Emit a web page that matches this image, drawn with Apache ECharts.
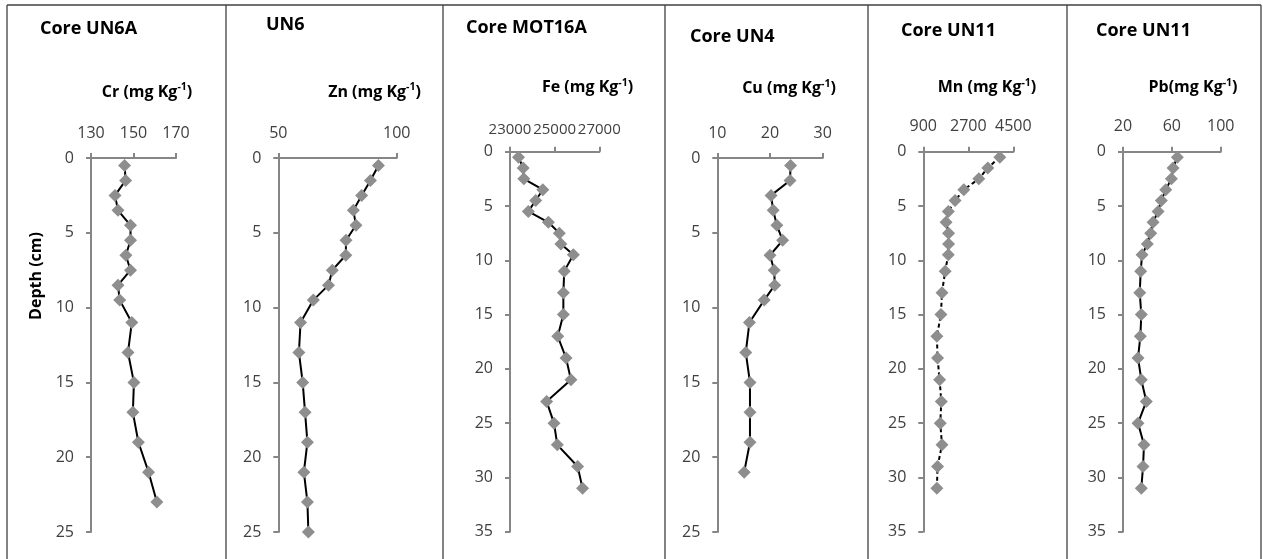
<!DOCTYPE html>
<html>
<head>
<meta charset="utf-8">
<script src="https://cdn.jsdelivr.net/npm/echarts@6/dist/echarts.min.js"></script>
<style>
  html, body { margin: 0; padding: 0; background: #ffffff; }
  #chart { width: 1263px; height: 559px; }
</style>
</head>
<body>
<div id="chart"></div>
<script>
// Sediment core profiles: metal concentration (mg/kg) against depth (cm)
const coreTitles = ['Core UN6A', 'UN6', 'Core MOT16A', 'Core UN4', 'Core UN11', 'Core UN11'];
const elementLabels = ['Cr (mg Kg', 'Zn (mg Kg', 'Fe (mg Kg', 'Cu (mg Kg', 'Mn (mg Kg', 'Pb(mg Kg'];
const depthAxisName = 'Depth (cm)';

// Depths (cm) of the sampled slices in each core
const depthCr = [0.5, 1.5, 2.5, 3.5, 4.5, 5.5, 6.5, 7.5, 8.5, 9.5, 11, 13, 15, 17, 19, 21, 23];
const depthZn = [0.5, 1.5, 2.5, 3.5, 4.5, 5.5, 6.5, 7.5, 8.5, 9.5, 11, 13, 15, 17, 19, 21, 23, 25];
const depthFe = [0.5, 1.5, 2.5, 3.5, 4.5, 5.5, 6.5, 7.5, 8.5, 9.5, 11, 13, 15, 17, 19, 21, 23, 25, 27, 29, 31];
const depthCu = [0.5, 1.5, 2.5, 3.5, 4.5, 5.5, 6.5, 7.5, 8.5, 9.5, 11, 13, 15, 17, 19, 21];
const depthMn = [0.5, 1.5, 2.5, 3.5, 4.5, 5.5, 6.5, 7.5, 8.5, 9.5, 11, 13, 15, 17, 19, 21, 23, 25, 27, 29, 31];
const depthPb = [0.5, 1.5, 2.5, 3.5, 4.5, 5.5, 6.5, 7.5, 8.5, 9.5, 11, 13, 15, 17, 19, 21, 23, 25, 27, 29, 31];

// Concentrations (mg/kg)
const cr = [145.8, 146.3, 141.3, 142.7, 148.6, 148.6, 146.4, 148.6, 142.7, 143.5, 149.2, 147.4, 150.2, 149.7, 152.3, 157.1, 161.0];
const zn = [92.3, 88.9, 85.2, 81.7, 82.8, 78.6, 78.5, 72.8, 71.2, 64.8, 59.4, 58.7, 60.3, 61.3, 62.3, 60.8, 62.3, 62.7];
const fe = [23380, 23590, 23620, 24470, 24150, 23820, 24720, 25210, 25280, 25840, 25430, 25390, 25390, 25140, 25510, 25730, 24640, 24970, 25120, 26030, 26250];
const cu = [23.9, 23.8, 20.2, 20.6, 21.3, 22.4, 20.0, 20.8, 20.9, 18.9, 16.1, 15.4, 16.2, 16.2, 16.2, 15.1];
const mn = [3960, 3480, 3120, 2520, 2170, 1900, 1810, 1910, 1910, 1900, 1775, 1647, 1606, 1443, 1471, 1552, 1620, 1579, 1647, 1471, 1443];
const pb = [64.5, 61.0, 59.6, 55.0, 51.4, 48.7, 44.6, 42.7, 39.9, 35.6, 34.5, 33.7, 35.0, 34.2, 32.3, 35.0, 39.1, 32.3, 37.2, 36.4, 35.0];

// Concentration axis ranges: [min, max, interval]; depth axis maxima
const concRanges = [[130, 170, 20], [50, 100, 50], [23000, 27000, 2000], [10, 30, 10], [900, 4500, 1800], [20, 100, 40]];
const depthMax = [25, 25, 35, 25, 35, 35];

const values = [cr, zn, fe, cu, mn, pb];
const depths = [depthCr, depthZn, depthFe, depthCu, depthMn, depthPb];

// Layout of each panel (plot box in px, title and axis-name anchors, top label gap and size)
const layout = [
  { box: [91, 158, 85, 374],       title: [40, 29],   name: [147, 92],     gap: 17, tick: 16 },
  { box: [278.3, 158, 118.4, 374], title: [266, 25],  name: [374.5, 92],   gap: 17, tick: 16 },
  { box: [510, 151.7, 89.3, 380],  title: [466, 28],  name: [587.5, 87.5], gap: 14, tick: 15 },
  { box: [717.3, 158, 105.4, 374], title: [690, 37],  name: [789, 88.5],   gap: 17, tick: 16 },
  { box: [923.3, 151.7, 90, 380],  title: [901, 31],  name: [987, 87.5],   gap: 17, tick: 16 },
  { box: [1123, 151.7, 97.7, 380], title: [1096, 31], name: [1193, 87.5],  gap: 17, tick: 16 }
];
const panelEdges = [7, 226, 443, 665, 868, 1067, 1261];

const FONT = '"Open Sans", "Noto Sans", sans-serif';
const AXIS_GREY = '#868686';
const LABEL_GREY = '#404040';

const grids = [], xAxes = [], yAxes = [], series = [], graphics = [];

layout.forEach((p, i) => {
  const [l, t, w, h] = p.box;
  grids.push({ left: l, top: t, width: w, height: h, containLabel: false, outerBoundsMode: 'none' });

  xAxes.push({
    type: 'value', gridIndex: i, position: 'top',
    min: concRanges[i][0], max: concRanges[i][1], interval: concRanges[i][2],
    axisLine: { show: true, onZero: false, lineStyle: { color: AXIS_GREY, width: 2 } },
    axisTick: { show: true, length: 5, lineStyle: { color: AXIS_GREY, width: 2 } },
    axisLabel: {
      color: LABEL_GREY, fontSize: p.tick, fontFamily: FONT, margin: p.gap,
      interval: 0, hideOverlap: false, showMinLabel: true, showMaxLabel: true,
      formatter: v => String(v)
    },
    splitLine: { show: false }
  });

  yAxes.push({
    type: 'value', gridIndex: i, inverse: true,
    min: 0, max: depthMax[i], interval: 5,
    axisLine: { show: true, onZero: false, lineStyle: { color: AXIS_GREY, width: 2 } },
    axisTick: { show: true, length: 5, lineStyle: { color: AXIS_GREY, width: 2 } },
    axisLabel: { color: LABEL_GREY, fontSize: 16, fontFamily: FONT, margin: 17, formatter: v => String(v) },
    splitLine: { show: false }
  });

  series.push({
    type: 'line', xAxisIndex: i, yAxisIndex: i,
    data: values[i].map((v, k) => [v, depths[i][k]]),
    symbol: 'diamond', symbolSize: 13, showAllSymbol: true,
    itemStyle: { color: '#8e8e8e' },
    lineStyle: { color: '#000000', width: 2, type: i === 4 ? [4, 3] : 'solid' },
    animation: false
  });

  graphics.push({
    type: 'text', x: p.title[0], y: p.title[1],
    style: { text: coreTitles[i], fill: '#000000', fontSize: 18, fontWeight: 'bold', fontFamily: FONT, align: 'left', verticalAlign: 'middle' }
  });

  graphics.push({
    type: 'text', x: p.name[0], y: p.name[1],
    style: {
      text: '{n|' + elementLabels[i] + '}{s|-1}{n|)}',
      align: 'center', verticalAlign: 'middle',
      rich: {
        n: { fill: '#000000', fontSize: 16, fontWeight: 'bold', fontFamily: FONT, lineHeight: 20 },
        s: { fill: '#000000', fontSize: 10.5, fontWeight: 'bold', fontFamily: FONT, lineHeight: 10, verticalAlign: 'top' }
      }
    }
  });
});

// Depth axis title on the first panel
graphics.push({
  type: 'text', x: 36, y: 276, rotation: Math.PI / 2,
  style: { text: depthAxisName, fill: '#000000', fontSize: 16, fontWeight: 'bold', fontFamily: FONT, align: 'center', verticalAlign: 'middle' }
});

// Panel frames
panelEdges.forEach(x => {
  graphics.push({ type: 'line', shape: { x1: x, y1: 5, x2: x, y2: 560 }, style: { stroke: '#404040', lineWidth: 1.3 } });
});
graphics.push({ type: 'line', shape: { x1: panelEdges[0], y1: 5, x2: panelEdges[panelEdges.length - 1], y2: 5 }, style: { stroke: '#404040', lineWidth: 1.3 } });

const chart = echarts.init(document.getElementById('chart'), null, { renderer: 'canvas' });
chart.setOption({
  animation: false,
  backgroundColor: '#ffffff',
  grid: grids,
  xAxis: xAxes,
  yAxis: yAxes,
  series: series,
  graphic: graphics
});
</script>
</body>
</html>
